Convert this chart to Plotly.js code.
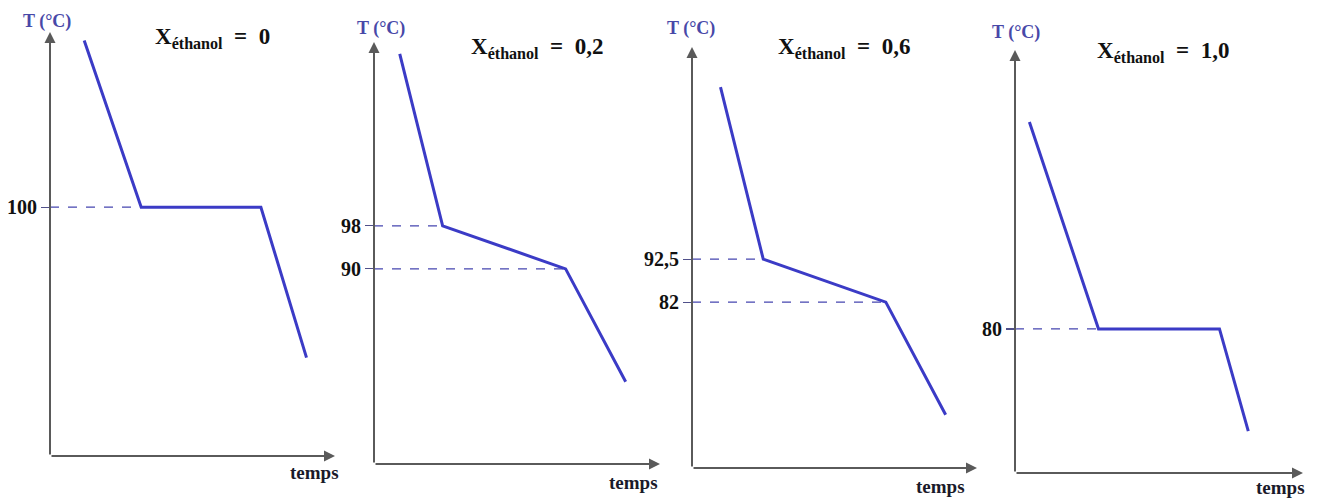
<!DOCTYPE html>
<html>
<head>
<meta charset="utf-8">
<script src="https://cdn.plot.ly/plotly-3.0.1.min.js"></script>
<style>
html,body{margin:0;padding:0;background:#fff;}
#chart{width:1317px;height:499px;}
</style>
</head>
<body>
<div id="chart"></div>
<script>
// ---- data (time in arbitrary units, T in °C) ----
const time1 = [1.2, 3.2, 7.4, 9.0];
const temp1 = [131, 100, 100, 72];
const ticks1 = [100];
const tickText1 = ['100'];
const label1 = '0';

const time2 = [0.9, 2.4, 6.7, 8.8];
const temp2 = [130, 98, 90, 69];
const ticks2 = [98, 90];
const tickText2 = ['98', '90'];
const label2 = '0,2';

const time3 = [1.0, 2.5, 6.8, 8.9];
const temp3 = [134.5, 92.5, 82, 54.5];
const ticks3 = [92.5, 82];
const tickText3 = ['92,5', '82'];
const label3 = '0,6';

const time4 = [0.5, 2.9, 7.1, 8.1];
const temp4 = [118.5, 80, 80, 61];
const ticks4 = [80];
const tickText4 = ['80'];
const label4 = '1,0';

const yTitle = 'T (°C)';
const xTitle = 'temps';

// ---- layout helpers ----
const W = 1317, H = 499;
const fx = p => p / W;
const fy = p => 1 - p / H;

const panels = [
  {t: time1, T: temp1, ticks: ticks1, tt: tickText1, lab: label1,
   x0: 50, x1: 335, yb: 456, yt: 32, xr: [0, 10], yr: [53.7, 132.6],
   titleX: 212, titleY: 38, tX: 47, tY: 21, mX: 314, mY: 472},
  {t: time2, T: temp2, ticks: ticks2, tt: tickText2, lab: label2,
   x0: 374, x1: 660, yb: 464, yt: 42, xr: [0, 10], yr: [53.7, 132.2],
   titleX: 537, titleY: 48, tX: 381, tY: 28, mX: 633, mY: 482},
  {t: time3, T: temp3, ticks: ticks3, tt: tickText3, lab: label3,
   x0: 692, x1: 977, yb: 468, yt: 47, xr: [0, 10], yr: [41.5, 144.3],
   titleX: 844, titleY: 48, tX: 691, tY: 28, mX: 940, mY: 486},
  {t: time4, T: temp4, ticks: ticks4, tt: tickText4, lab: label4,
   x0: 1015, x1: 1303, yb: 473, yt: 50, xr: [0, 10], yr: [53.2, 131.9],
   titleX: 1163, titleY: 52, tX: 1016, tY: 33, mX: 1280, mY: 487}
];

const traces = [];
const annotations = [];
const layout = {
  width: W, height: H,
  margin: {l: 0, r: 0, t: 0, b: 0},
  paper_bgcolor: '#fff', plot_bgcolor: 'rgba(0,0,0,0)',
  showlegend: false,
  font: {family: 'Liberation Serif, Times New Roman, serif', color: '#111'}
};

const lineBlue = '#3b3bc6';
const dashBlue = '#4646b0';
const axisGray = '#5a5a5a';

panels.forEach((p, i) => {
  const n = i + 1;
  const xa = n === 1 ? 'x' : 'x' + n;
  const ya = n === 1 ? 'y' : 'y' + n;
  const xkey = n === 1 ? 'xaxis' : 'xaxis' + n;
  const ykey = n === 1 ? 'yaxis' : 'yaxis' + n;

  layout[xkey] = {
    domain: [fx(p.x0), fx(p.x1)], range: p.xr, anchor: ya,
    showgrid: false, zeroline: false, showline: false,
    showticklabels: false, ticks: ''
  };
  layout[ykey] = {
    domain: [fy(p.yb), fy(p.yt)], range: p.yr, anchor: xa,
    showgrid: false, zeroline: false, showline: false,
    tickmode: 'array', tickvals: p.ticks, ticktext: p.tt,
    ticks: 'outside', ticklen: 8, tickwidth: 1.2, tickcolor: '#50508a',
    tickfont: {family: 'Liberation Serif, serif', size: 20, color: '#111', weight: 'bold'}
  };

  // dashed reference lines from the axis to the break points
  p.ticks.forEach(v => {
    const k = p.T.indexOf(v);
    traces.push({
      type: 'scatter', mode: 'lines', xaxis: xa, yaxis: ya,
      x: [p.xr[0], p.t[k]], y: [v, v],
      line: {color: dashBlue, width: 1.2, dash: '9px,9px'},
      hoverinfo: 'skip'
    });
  });

  // cooling curve
  traces.push({
    type: 'scatter', mode: 'lines', xaxis: xa, yaxis: ya,
    x: p.t, y: p.T,
    line: {color: lineBlue, width: 3}
  });

  // axes with arrows
  annotations.push({
    xref: xa, yref: ya, axref: xa, ayref: ya,
    x: p.xr[0], y: p.yr[1], ax: p.xr[0], ay: p.yr[0],
    text: '', showarrow: true, arrowhead: 2, arrowsize: 1.1,
    arrowwidth: 2, arrowcolor: axisGray
  });
  annotations.push({
    xref: xa, yref: ya, axref: xa, ayref: ya,
    x: p.xr[1], y: p.yr[0], ax: p.xr[0], ay: p.yr[0],
    text: '', showarrow: true, arrowhead: 2, arrowsize: 1.1,
    arrowwidth: 2, arrowcolor: axisGray
  });

  // axis titles
  annotations.push({
    xref: 'paper', yref: 'paper', x: fx(p.tX), y: fy(p.tY),
    text: '<b>' + yTitle + '</b>', showarrow: false,
    xanchor: 'center', yanchor: 'middle',
    font: {family: 'Liberation Serif, serif', size: 18, color: '#4848a8'}
  });
  annotations.push({
    xref: 'paper', yref: 'paper', x: fx(p.mX), y: fy(p.mY),
    text: '<b>' + xTitle + '</b>', showarrow: false,
    xanchor: 'center', yanchor: 'middle',
    font: {family: 'Liberation Serif, serif', size: 19, color: '#1a1a2a'}
  });

  // panel label X_éthanol = value
  annotations.push({
    xref: 'paper', yref: 'paper', x: fx(p.titleX), y: fy(p.titleY),
    text: '<b>X<sub>éthanol</sub>&nbsp;&nbsp;=&nbsp;&nbsp;' + p.lab + '</b>',
    showarrow: false, xanchor: 'center', yanchor: 'middle',
    font: {family: 'Liberation Serif, serif', size: 23, color: '#111'}
  });
});

layout.annotations = annotations;

Plotly.newPlot('chart', traces, layout, {staticPlot: true, displayModeBar: false});
</script>
</body>
</html>
